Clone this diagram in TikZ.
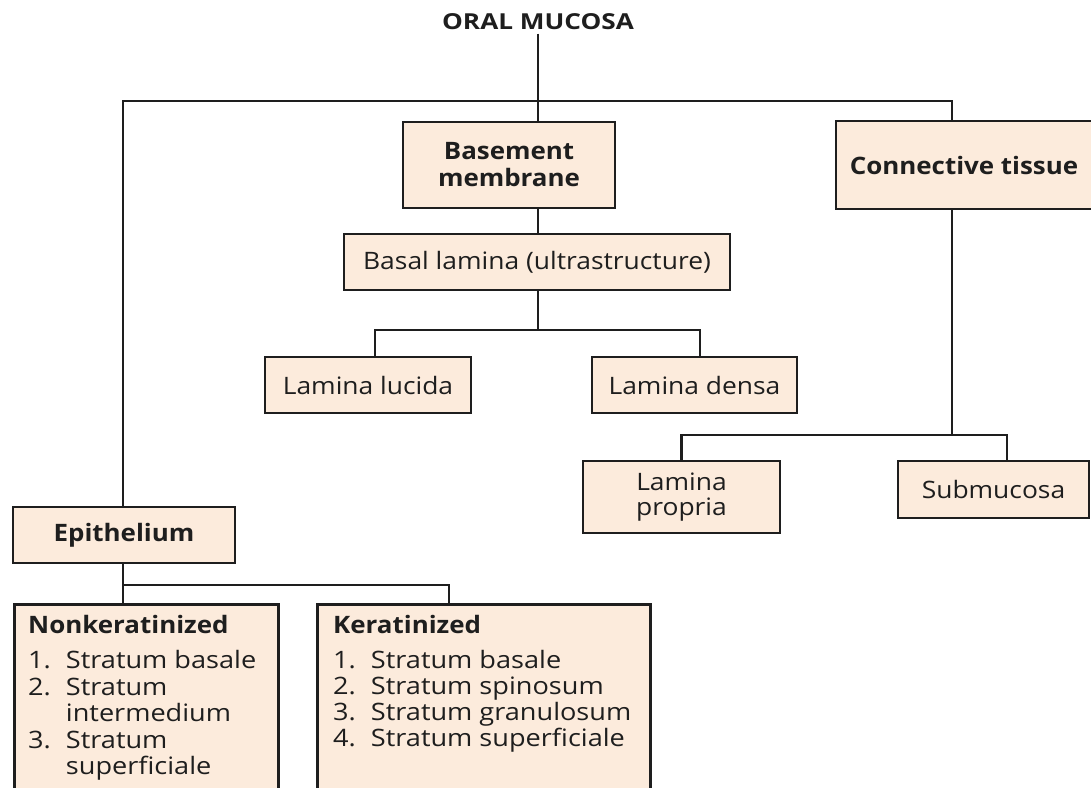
\documentclass[tikz,border=0pt]{standalone}
\usepackage{fontspec}
\setmainfont{Open Sans}
\newfontfamily\regf{Open Sans}[FakeStretch=1.1]
\newfontfamily\boldf{Open Sans}[FakeStretch=1.08]
\newfontfamily\listf{Open Sans}[FakeStretch=1.13]
\newfontfamily\topf{Open Sans}[FakeStretch=1.19]
\definecolor{peach}{HTML}{FCEBDC}
\definecolor{ink}{HTML}{1E1E1E}
\begin{document}
\begin{tikzpicture}[x=1pt,y=-1pt,
  box/.style={draw=ink,line width=2.8pt,fill=peach,inner sep=0pt,align=center,
    font=\regf\fontsize{24}{25}\selectfont,text=ink},
  bbox/.style={box,font=\boldf\bfseries\fontsize{24}{27}\selectfont},
  listbox/.style={draw=ink,line width=2.8pt,fill=peach,anchor=north west,inner sep=0pt},
  listtext/.style={anchor=base west,align=left,text=ink,inner sep=0pt,
    font=\listf\fontsize{24}{26.5}\selectfont},
  conn/.style={draw=ink,line width=2.8pt}]
\useasboundingbox (0,0) rectangle (1091,787);
\clip (0,0) rectangle (1091,787);
\fill[white] (0,0) rectangle (1091,787);

\node[font=\topf\bfseries\fontsize{22}{24}\selectfont,text=ink] (om) at (538,22) {ORAL MUCOSA};

\node[bbox,minimum width=212pt,minimum height=86pt] (bm) at (509,165) {Basement\\membrane};
\node[box,minimum width=386pt,minimum height=56pt] (bl) at (537,262) {Basal lamina (ultrastructure)};
\node[box,minimum width=206pt,minimum height=56pt] (ll) at (368,385) {Lamina lucida};
\node[box,minimum width=205pt,minimum height=56pt] (ld) at (694.5,385) {Lamina densa};
\node[bbox,minimum width=256pt,minimum height=88pt] (ct) at (964,165) {Connective tissue};
\node[box,minimum width=197pt,minimum height=72pt] (lp) at (681.5,497) {Lamina\\propria};
\node[box,minimum width=191pt,minimum height=57pt] (sm) at (993.5,489.5) {Submucosa};
\node[bbox,minimum width=222pt,minimum height=56pt] (ep) at (124,535) {Epithelium};

\node[listbox,minimum width=264pt,minimum height=220pt] (nk) at (13,603) {};
\node[listtext] (nkt) at (28,633)
  {{\boldf\bfseries Nonkeratinized}};
\node[listtext,anchor=north west] (nkl) at (28,650)
  {\begin{tabular}[t]{@{}l@{\hspace{15pt}}l@{}}
   1. & Stratum basale\\
   2. & Stratum\\
      & intermedium\\
   3. & Stratum\\
      & superficiale
   \end{tabular}};
\node[listbox,minimum width=333pt,minimum height=220pt] (kr) at (316,603) {};
\node[listtext] (krt) at (333,633)
  {{\boldf\bfseries Keratinized}};
\node[listtext,anchor=north west,font=\listf\fontsize{24}{25.8}\selectfont] (krl) at (333,650)
  {\begin{tabular}[t]{@{}l@{\hspace{15pt}}l@{}}
   1. & Stratum basale\\
   2. & Stratum spinosum\\
   3. & Stratum granulosum\\
   4. & Stratum superficiale
   \end{tabular}};

\coordinate (h0) at (538,101);
\draw[conn] (om.south -| h0) -- (bm.north -| h0);
\draw[conn] ([xshift=-1pt]ep.north) |- (h0) -| ([xshift=-12pt]ct.north);
\draw[conn] (bm.south -| h0) -- (bl.north -| h0);
\coordinate (h1) at (538,330);
\draw[conn] (bl.south -| h1) -- (h1);
\draw[conn] ([xshift=7pt]ll.north) |- (h1) -| ([xshift=5.5pt]ld.north);
\coordinate (h2) at (952,435);
\draw[conn] ([xshift=-12pt]ct.south) -- (h2);
\draw[conn] (lp.north) |- (h2) -| ([xshift=13.5pt]sm.north);
\coordinate (h3) at (123,585);
\draw[conn] ([xshift=-1pt]ep.south) -- (h3);
\draw[conn] (h3) -- ([xshift=110pt]nk.north west);
\draw[conn] (h3) -| ([xshift=133pt]kr.north west);
\end{tikzpicture}
\end{document}
